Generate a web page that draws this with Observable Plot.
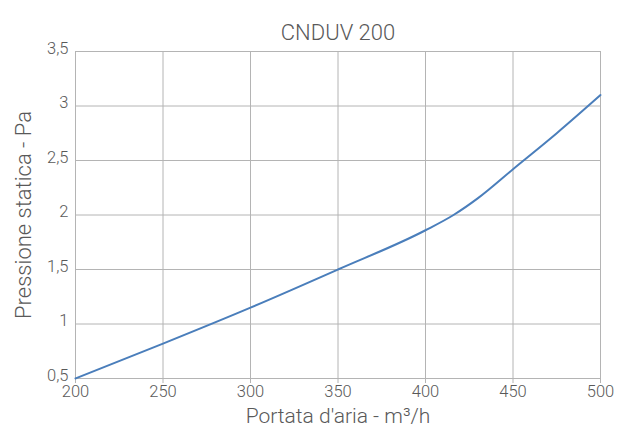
<!DOCTYPE html>
<html><head><meta charset="utf-8">
<script src="https://cdn.jsdelivr.net/npm/d3@7"></script>
<script src="https://cdn.jsdelivr.net/npm/@observablehq/plot@0.6"></script>
<style>body{margin:0;background:#fff}</style>
</head><body><div id="chart"></div>
<script>
const flow = [200, 250, 300, 350, 400, 416, 430, 450, 475, 500];
const pressure = [0.5, 0.82, 1.15, 1.5, 1.86, 2.0, 2.155, 2.42, 2.75, 3.1];
const xTicks = [200, 250, 300, 350, 400, 450, 500];
const yTicks = [0.5, 1, 1.5, 2, 2.5, 3, 3.5];
const title = "CNDUV 200";
const xLabel = "Portata d'aria - m³/h";
const yLabel = "Pressione statica - Pa";

const data = flow.map((x, i) => ({x, y: pressure[i]}));
const fmt = d => String(d).replace(".", ",");
const grid = "#b4b4b4";
const textColor = "#595959";

const chart = Plot.plot({
  width: 618, height: 432,
  marginLeft: 75, marginRight: 18, marginTop: 51, marginBottom: 54,
  style: {fontFamily: "Roboto, 'Liberation Sans', sans-serif", fontWeight: 300, color: textColor, background: "white"},
  x: {domain: [200, 500], label: null},
  y: {domain: [0.5, 3.5], label: null},
  marks: [
    Plot.gridX(xTicks, {stroke: grid, strokeOpacity: 1}),
    Plot.gridY(yTicks, {stroke: grid, strokeOpacity: 1}),
    Plot.axisX(xTicks, {tickSize: 5, tickPadding: 2, stroke: grid, fill: textColor, fontSize: 16.5, tickFormat: fmt, label: null}),
    Plot.axisY(yTicks, {tickSize: 0, tickPadding: 7, dy: -3, fill: textColor, fontSize: 16.5, tickFormat: fmt, label: null}),
    Plot.line(data, {x: "x", y: "y", stroke: "#4a7ebb", strokeWidth: 2, curve: "monotone-x"}),
    Plot.text([title], {text: d => d, frameAnchor: "top", dy: -27, fontSize: 22, fill: textColor}),
    Plot.text([xLabel], {text: d => d, frameAnchor: "bottom", dy: 44, fontSize: 21, fill: textColor}),
    Plot.text([yLabel], {text: d => d, frameAnchor: "left", textAnchor: "middle", dx: -52, rotate: -90, fontSize: 22, fill: textColor})
  ]
});
document.getElementById("chart").appendChild(chart);
</script>
</body></html>
